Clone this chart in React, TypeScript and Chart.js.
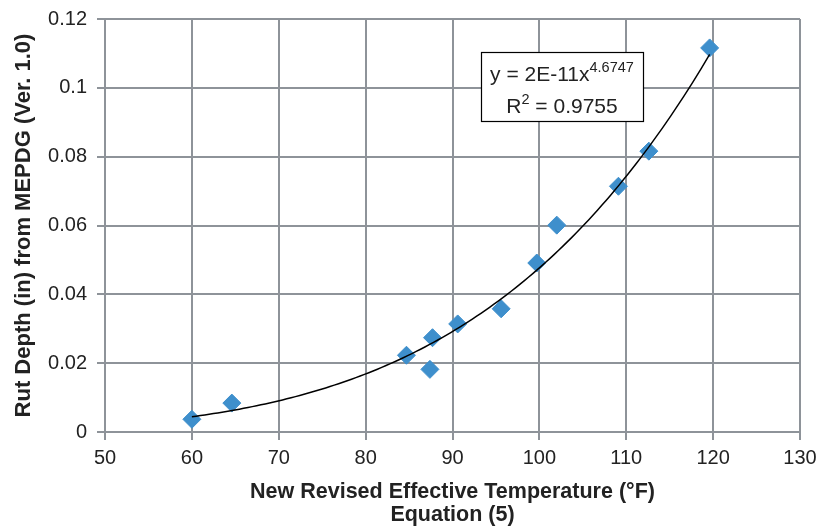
import React, { useEffect, useRef } from "react";
import { Chart, registerables } from "chart.js";

Chart.register(...registerables);

// ---- data ----
const temperatures = [60.0, 64.6, 84.7, 87.4, 87.7, 90.6, 95.6, 99.7, 102.0, 109.1, 112.6, 119.6];
const rutDepths = [0.0037, 0.0084, 0.0223, 0.0182, 0.0274, 0.0314, 0.0358, 0.0491, 0.0601, 0.0714, 0.0816, 0.1116];

const xMin = 50;
const xMax = 130;
const xStep = 10;
const yMin = 0;
const yMax = 0.12;
const yStep = 0.02;

const xTitle = ["New Revised Effective Temperature (°F)", "Equation (5)"];
const yTitle = "Rut Depth (in) from MEPDG (Ver. 1.0)";

const eqBase = "y = 2E-11x";
const eqExponent = "4.6747";
const r2Base = "R";
const r2Exponent = "2";
const r2Rest = " = 0.9755";

// ---- power trendline fitted (least squares in log space), like a spreadsheet trendline ----
function powerFit(xs: number[], ys: number[]) {
  const n = xs.length;
  let sx = 0, sy = 0, sxx = 0, sxy = 0;
  for (let i = 0; i < n; i++) {
    const lx = Math.log(xs[i]);
    const ly = Math.log(ys[i]);
    sx += lx; sy += ly; sxx += lx * lx; sxy += lx * ly;
  }
  const b = (n * sxy - sx * sy) / (n * sxx - sx * sx);
  const a = Math.exp((sy - b * sx) / n);
  return { a, b };
}

const FONT = "'Liberation Sans', Arial, Helvetica, sans-serif";
const GRID = "#8E9399";
const TEXT = "#222222";
const MARKER = "#3E8FCC";

export default function App() {
  const ref = useRef<HTMLCanvasElement | null>(null);

  useEffect(() => {
    if (!ref.current) return;
    const { a, b } = powerFit(temperatures, rutDepths);
    const lo = Math.min(...temperatures);
    const hi = Math.max(...temperatures);
    const trend: { x: number; y: number }[] = [];
    const N = 120;
    for (let i = 0; i <= N; i++) {
      const x = lo + ((hi - lo) * i) / N;
      trend.push({ x, y: a * Math.pow(x, b) });
    }
    const points = temperatures.map((t, i) => ({ x: t, y: rutDepths[i] }));

    const equationBox = {
      id: "equationBox",
      afterDatasetsDraw(chart: any) {
        const ctx = chart.ctx as CanvasRenderingContext2D;
        const ca = chart.chartArea;
        const bx = ca.left + 376;
        const by = ca.top + 33;
        const bw = 162;
        const bh = 69;
        ctx.save();
        ctx.fillStyle = "#ffffff";
        ctx.fillRect(bx, by, bw, bh);
        ctx.strokeStyle = "#000000";
        ctx.lineWidth = 1.2;
        ctx.strokeRect(bx + 0.5, by + 0.5, bw, bh);
        ctx.fillStyle = TEXT;
        ctx.textBaseline = "alphabetic";
        ctx.textAlign = "left";
        const big = `21px ${FONT}`;
        const small = `14.5px ${FONT}`;
        // line 1
        ctx.font = big;
        const w1a = ctx.measureText(eqBase).width;
        ctx.font = small;
        const w1b = ctx.measureText(eqExponent).width;
        let x0 = bx + bw / 2 - (w1a + w1b) / 2;
        const base1 = by + 29;
        ctx.font = big;
        ctx.fillText(eqBase, x0, base1);
        ctx.font = small;
        ctx.fillText(eqExponent, x0 + w1a, base1 - 9);
        // line 2
        ctx.font = big;
        const w2a = ctx.measureText(r2Base).width;
        const w2c = ctx.measureText(r2Rest).width;
        ctx.font = small;
        const w2b = ctx.measureText(r2Exponent).width;
        x0 = bx + bw / 2 - (w2a + w2b + w2c) / 2;
        const base2 = by + 61;
        ctx.font = big;
        ctx.fillText(r2Base, x0, base2);
        ctx.font = small;
        ctx.fillText(r2Exponent, x0 + w2a, base2 - 9);
        ctx.font = big;
        ctx.fillText(r2Rest, x0 + w2a + w2b, base2);
        ctx.restore();
      },
    };

    const chart = new Chart(ref.current, {
      type: "scatter",
      data: {
        datasets: [
          {
            type: "line",
            label: "Power trendline",
            data: trend,
            borderColor: "#000000",
            borderWidth: 1.5,
            pointRadius: 0,
            fill: false,
            tension: 0,
          } as any,
          {
            label: "Rut depth",
            data: points,
            pointStyle: "rectRot",
            pointRadius: 9,
            pointHoverRadius: 9,
            backgroundColor: MARKER,
            borderColor: MARKER,
            borderWidth: 1,
          },
        ],
      },
      plugins: [equationBox],
      options: {
        responsive: false,
        animation: false,
        layout: { padding: { left: 0, right: 17, top: 19, bottom: 0 } },
        plugins: {
          legend: { display: false },
          tooltip: { enabled: false },
        },
        scales: {
          x: {
            type: "linear",
            min: xMin,
            max: xMax,
            ticks: {
              stepSize: xStep,
              color: TEXT,
              font: { family: FONT, size: 20 },
              padding: 6,
              maxRotation: 0,
            },
            grid: { color: GRID, lineWidth: 2, tickLength: 8, drawTicks: true },
            border: { display: true, color: GRID, width: 2 },
            title: {
              display: true,
              text: xTitle,
              color: TEXT,
              font: { family: FONT, size: 21.5, weight: "bold", lineHeight: "23px" },
              padding: { top: 0, bottom: 0 },
            },
            afterFit: (s: any) => {
              s.height = 95;
              s.paddingLeft = 0;
              s.paddingRight = 0;
            },
          },
          y: {
            type: "linear",
            min: yMin,
            max: yMax,
            ticks: {
              stepSize: yStep,
              color: TEXT,
              font: { family: FONT, size: 20 },
              padding: 10,
              callback: (v: any) => String(+Number(v).toFixed(2)),
            },
            grid: { color: GRID, lineWidth: 2, tickLength: 8, drawTicks: true },
            border: { display: true, color: GRID, width: 2 },
            title: {
              display: true,
              text: yTitle,
              color: TEXT,
              font: { family: FONT, size: 22, weight: "bold", lineHeight: "24px" },
              padding: { top: 12, bottom: 0 },
            },
            afterFit: (s: any) => {
              s.width = 105;
              s.paddingTop = 0;
              s.paddingBottom = 0;
            },
          },
        },
      },
    });
    return () => chart.destroy();
  }, []);

  return (
    <div style={{ position: "absolute", left: 0, top: 0, width: 817, height: 527, background: "#fff" }}>
      <canvas ref={ref} width={817} height={527} />
    </div>
  );
}
